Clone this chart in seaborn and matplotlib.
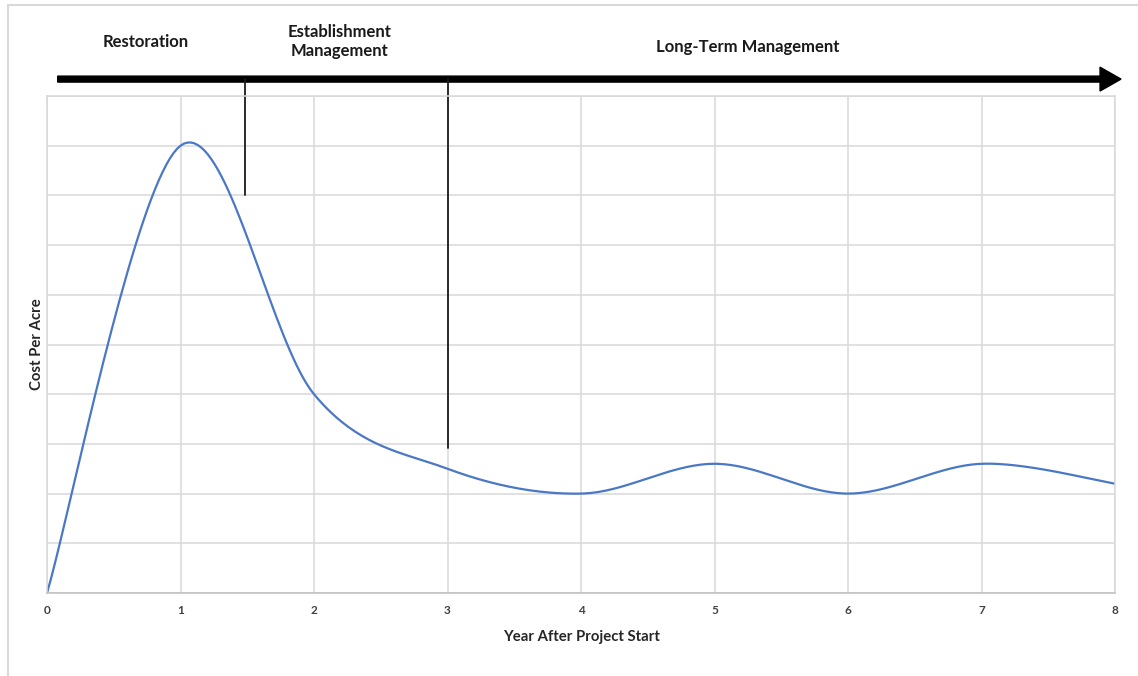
import numpy as np
import pandas as pd
import matplotlib
matplotlib.use("Agg")
import matplotlib.pyplot as plt
from matplotlib.patches import FancyArrow, Rectangle
import seaborn as sns

# data (cost per acre in gridline units)
years = [0, 1, 2, 3, 4, 5, 6, 7, 8]
cost = [0, 9.0, 4.0, 2.5, 2.0, 2.6, 2.0, 2.6, 2.2]
phases = ["Restoration", "Establishment\nManagement", "Long-Term Management"]
phase_x = [0.74, 2.19, 5.25]
phase_y = [11.09, 11.1, 10.99]
dividers = [1.48, 3.0]
divider_bottom = [8.0, 2.92]
xticks = [0, 1, 2, 3, 4, 5, 6, 7, 8]

# smoothed line like Excel (Catmull-Rom style bezier through the points)
def smooth(xs, ys, n=40):
    pts = np.column_stack([xs, ys]).astype(float)
    pad = np.vstack([pts[0], pts, pts[-1]])
    out = []
    for i in range(len(pts) - 1):
        p0, p1, p2, p3 = pad[i], pad[i + 1], pad[i + 2], pad[i + 3]
        b1 = p1 + (p2 - p0) / 6
        b2 = p2 - (p3 - p1) / 6
        t = np.linspace(0, 1, n)[:, None]
        seg = ((1 - t) ** 3) * p1 + 3 * ((1 - t) ** 2) * t * b1 + 3 * (1 - t) * t ** 2 * b2 + t ** 3 * p2
        out.append(seg if i == 0 else seg[1:])
    return np.vstack(out)

curve = smooth(years, cost)
df = pd.DataFrame({"Year": curve[:, 0], "Cost": curve[:, 1]})

sns.set_style("white")
plt.rcParams["font.family"] = ["Lato", "DejaVu Sans"]

fig = plt.figure(figsize=(11.38, 6.76), dpi=100)
ax = fig.add_axes([47 / 1138, 1 - 593 / 676, (1115 - 47) / 1138, (593 - 96) / 676])

sns.lineplot(data=df, x="Year", y="Cost", ax=ax, color="#4a78c6", linewidth=1.6,
             sort=False, estimator=None)

ax.set_xlim(0, 8)
ax.set_ylim(0, 10)
ax.set_xticks(xticks)
ax.set_xticklabels([str(v) for v in xticks], fontsize=8.5, fontweight="bold", color="#404040")
ax.set_yticks(range(0, 11))
ax.set_yticklabels([])
ax.tick_params(length=0, pad=9)
ax.grid(True, color="#d9d9d9", linewidth=1.1)
for side in ["top", "right", "left"]:
    ax.spines[side].set_color("#d9d9d9")
    ax.spines[side].set_linewidth(1.1)
ax.spines["bottom"].set_color("#bfbfbf")
ax.spines["bottom"].set_linewidth(1.1)

ax.set_xlabel("Year After Project Start", fontsize=10.7, fontweight="bold", color="#262626", labelpad=10)
ax.set_ylabel("Cost Per Acre", fontsize=10.7, fontweight="bold", color="#262626")
ax.yaxis.set_label_coords(-0.003, 0.5)

# phase arrow across the top
arrow_y = 10.34
ax.add_patch(FancyArrow(0.08, arrow_y, 8.045 - 0.08, 0, width=0.12, head_width=0.48,
                        head_length=0.157, length_includes_head=True,
                        color="black", clip_on=False))
for x, yb in zip(dividers, divider_bottom):
    ax.plot([x, x], [arrow_y, yb], color="#1a1a1a", linewidth=1.3, clip_on=False)

for label, x, y in zip(phases, phase_x, phase_y):
    ax.text(x, y, label, ha="center", va="center", fontsize=12, fontweight="bold",
            color="#1a1a1a", linespacing=1.2)

# light page frame
fig.add_artist(Rectangle((8 / 1138, -0.1), 1.2, 1 - 5 / 676 + 0.1, transform=fig.transFigure,
                         fill=False, edgecolor="#d9d9d9", linewidth=1.5))

fig.savefig("out.png", dpi=100)
